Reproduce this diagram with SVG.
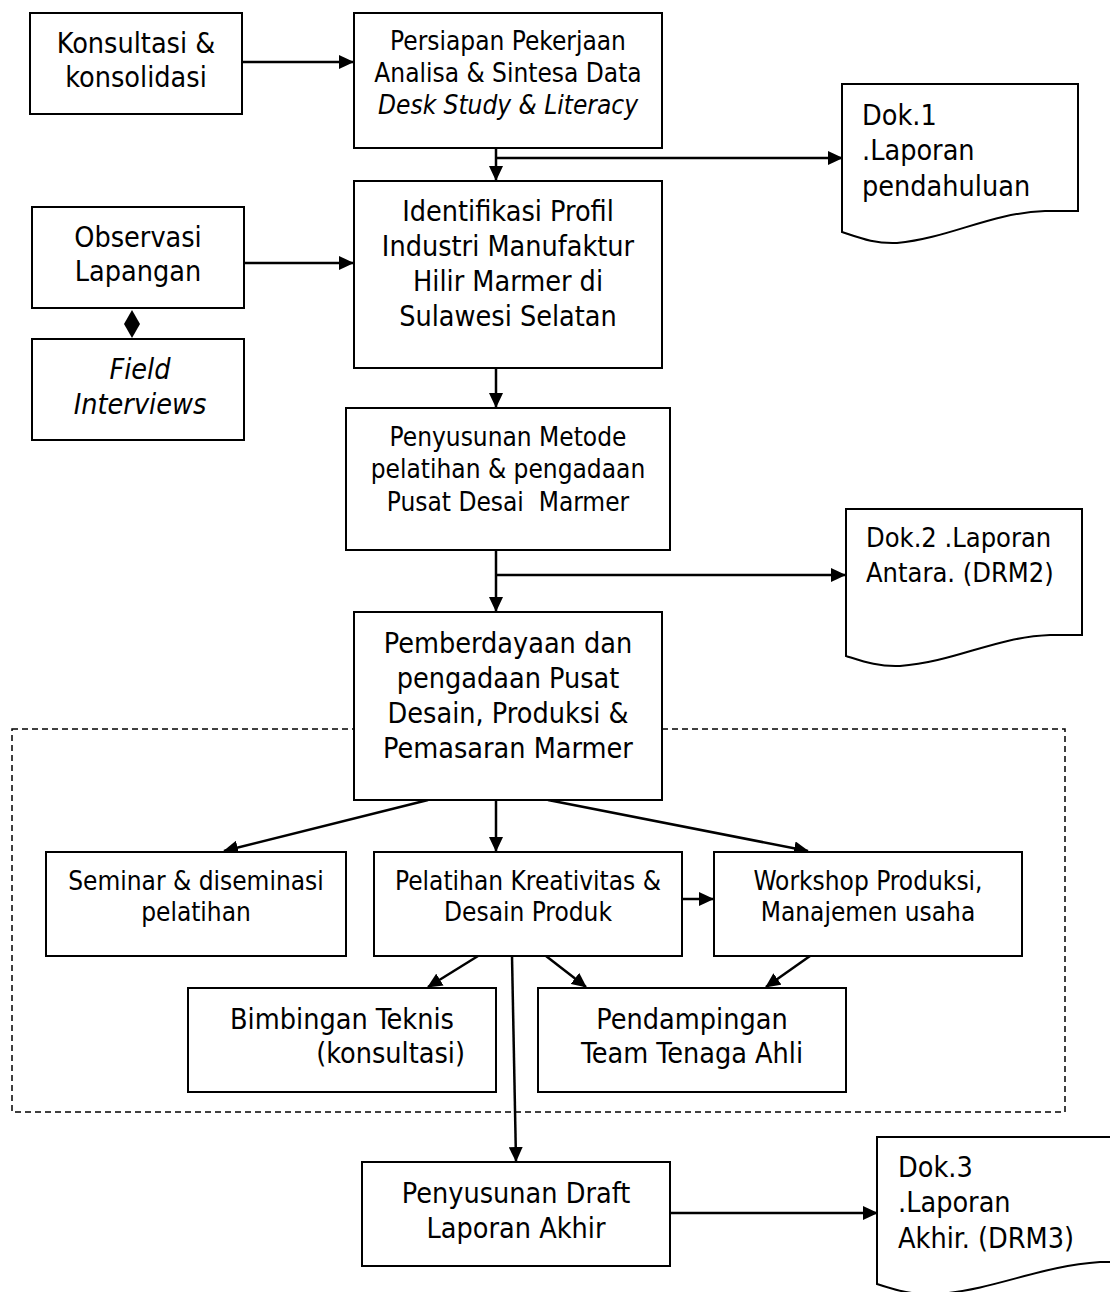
<svg xmlns="http://www.w3.org/2000/svg" width="1110" height="1292" viewBox="0 0 1110 1292">
<style>
.box{fill:#fff;stroke:#000;stroke-width:2}
.t{font-family:"DejaVu Sans Condensed","DejaVu Sans",sans-serif;font-stretch:condensed;fill:#000;text-anchor:middle}
.L{font-size:28.5px}
.S{font-size:26px}
.M{font-size:27px}
.it{font-style:italic}
.st{text-anchor:start}
.en{text-anchor:end}
.c{stroke:#000;stroke-width:2.5;fill:none}
.ah{fill:#000}
</style>
<defs>
<marker id="a" viewBox="0 0 15 14" refX="14" refY="7" markerWidth="15" markerHeight="14" markerUnits="userSpaceOnUse" orient="auto">
<path d="M0,0 L15,7 L0,14 Z" class="ah"/>
</marker>
</defs>
<rect x="12" y="729" width="1053" height="383" fill="none" stroke="#000" stroke-width="1.5" stroke-dasharray="6,4"/>
<g id="connectors">
<line class="c" x1="242" y1="62" x2="353" y2="62" marker-end="url(#a)"/>
<line class="c" x1="496" y1="148" x2="496" y2="180" marker-end="url(#a)"/>
<line class="c" x1="496" y1="158" x2="842" y2="158" marker-end="url(#a)"/>
<line class="c" x1="244" y1="263" x2="353" y2="263" marker-end="url(#a)"/>
<polygon points="132,310 140,324 132,338 124,324" fill="#000"/>
<line class="c" x1="496" y1="368" x2="496" y2="407" marker-end="url(#a)"/>
<line class="c" x1="496" y1="550" x2="496" y2="611" marker-end="url(#a)"/>
<line class="c" x1="496" y1="575" x2="845" y2="575" marker-end="url(#a)"/>
<line class="c" x1="428" y1="800" x2="224" y2="851" marker-end="url(#a)"/>
<line class="c" x1="496" y1="800" x2="496" y2="851" marker-end="url(#a)"/>
<line class="c" x1="548" y1="800" x2="808" y2="851" marker-end="url(#a)"/>
<line class="c" x1="682" y1="899" x2="713" y2="899" marker-end="url(#a)"/>
<line class="c" x1="478" y1="956" x2="428" y2="987" marker-end="url(#a)"/>
<line class="c" x1="546" y1="956" x2="586" y2="987" marker-end="url(#a)"/>
<line class="c" x1="810" y1="956" x2="766" y2="987" marker-end="url(#a)"/>
<line class="c" x1="512" y1="956" x2="516" y2="1161" marker-end="url(#a)"/>
<line class="c" x1="670" y1="1213" x2="877" y2="1213" marker-end="url(#a)"/>
</g>
<g id="n-konsultasi">
<rect class="box" x="30" y="13" width="212" height="101"/>
<text class="t L" x="136" y="53">Konsultasi &amp;</text>
<text class="t L" x="136" y="87">konsolidasi</text>
</g>
<g id="n-persiapan">
<rect class="box" x="354" y="13" width="308" height="135"/>
<text class="t S" x="508" y="50">Persiapan Pekerjaan</text>
<text class="t S" x="508" y="82">Analisa &amp; Sintesa Data</text>
<text class="t S it" x="508" y="114">Desk Study &amp; Literacy</text>
</g>
<g id="n-dok1">
<path class="box" d="M842,84 H1078 V211 H1045 C990,213 950,238 897,243 C875,244 860,238 842,232 Z"/>
<text class="t L st" x="862" y="125">Dok.1</text>
<text class="t L st" x="862" y="160">.Laporan</text>
<text class="t L st" x="862" y="196">pendahuluan</text>
</g>
<g id="n-identifikasi">
<rect class="box" x="354" y="181" width="308" height="187"/>
<text class="t L" x="508" y="221">Identifikasi Profil</text>
<text class="t L" x="508" y="256">Industri Manufaktur</text>
<text class="t L" x="508" y="291">Hilir Marmer di</text>
<text class="t L" x="508" y="326">Sulawesi Selatan</text>
</g>
<g id="n-observasi">
<rect class="box" x="32" y="207" width="212" height="101"/>
<text class="t L" x="138" y="247">Observasi</text>
<text class="t L" x="138" y="281">Lapangan</text>
</g>
<g id="n-field">
<rect class="box" x="32" y="339" width="212" height="101"/>
<text class="t L it" x="140" y="379">Field</text>
<text class="t L it" x="140" y="414">Interviews</text>
</g>
<g id="n-metode">
<rect class="box" x="346" y="408" width="324" height="142"/>
<text class="t S" x="508" y="446">Penyusunan Metode</text>
<text class="t S" x="508" y="478">pelatihan &amp; pengadaan</text>
<text class="t S" x="508" y="511" xml:space="preserve">Pusat Desai  Marmer</text>
</g>
<g id="n-dok2">
<path class="box" d="M846,509 H1082 V635 H1050 C995,637 955,662 900,666 C878,667 862,661 846,656 Z"/>
<text class="t M st" x="866" y="547">Dok.2 .Laporan</text>
<text class="t M st" x="866" y="582">Antara. (DRM2)</text>
</g>
<g id="n-pemberdayaan">
<rect class="box" x="354" y="612" width="308" height="188"/>
<text class="t L" x="508" y="653">Pemberdayaan dan</text>
<text class="t L" x="508" y="688">pengadaan Pusat</text>
<text class="t L" x="508" y="723">Desain, Produksi &amp;</text>
<text class="t L" x="508" y="758">Pemasaran Marmer</text>
</g>
<g id="n-seminar">
<rect class="box" x="46" y="852" width="300" height="104"/>
<text class="t S" x="196" y="890">Seminar &amp; diseminasi</text>
<text class="t S" x="196" y="921">pelatihan</text>
</g>
<g id="n-pelatihan">
<rect class="box" x="374" y="852" width="308" height="104"/>
<text class="t S" x="528" y="890">Pelatihan Kreativitas &amp;</text>
<text class="t S" x="528" y="921">Desain Produk</text>
</g>
<g id="n-workshop">
<rect class="box" x="714" y="852" width="308" height="104"/>
<text class="t S" x="868" y="890">Workshop Produksi,</text>
<text class="t S" x="868" y="921">Manajemen usaha</text>
</g>
<g id="n-bimbingan">
<rect class="box" x="188" y="988" width="308" height="104"/>
<text class="t L" x="342" y="1029">Bimbingan Teknis</text>
<text class="t L en" x="465" y="1063">(konsultasi)</text>
</g>
<g id="n-pendampingan">
<rect class="box" x="538" y="988" width="308" height="104"/>
<text class="t L" x="692" y="1029">Pendampingan</text>
<text class="t L" x="692" y="1063">Team Tenaga Ahli</text>
</g>
<g id="n-draft">
<rect class="box" x="362" y="1162" width="308" height="104"/>
<text class="t L" x="516" y="1203">Penyusunan Draft</text>
<text class="t L" x="516" y="1238">Laporan Akhir</text>
</g>
<g id="n-dok3">
<path class="box" d="M877,1137 H1115 V1262 H1100 C1040,1266 1000,1288 940,1294 C915,1296 895,1290 877,1284 Z"/>
<text class="t L st" x="898" y="1177">Dok.3</text>
<text class="t L st" x="898" y="1212">.Laporan</text>
<text class="t L st" x="898" y="1248">Akhir. (DRM3)</text>
</g>
</svg>
